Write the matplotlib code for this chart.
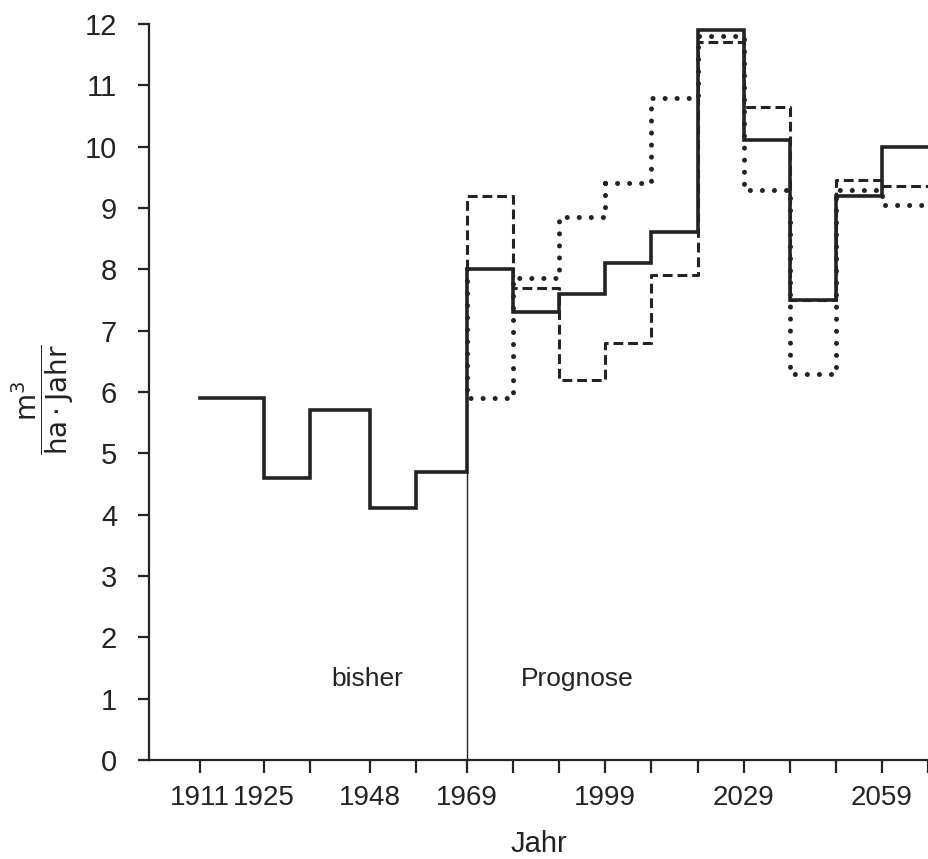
import matplotlib
matplotlib.use("Agg")
import matplotlib.pyplot as plt
import numpy as np

# edges of the periods (years)
hist_edges = [1911, 1925, 1935, 1948, 1958, 1969]
prog_edges = [1969, 1979, 1989, 1999, 2009, 2019, 2029, 2039, 2049, 2059, 2069]

# growth in m3 / (ha * Jahr)
hist_vals = [5.9, 4.6, 5.7, 4.1, 4.7]
prog_solid = [8.0, 7.3, 7.6, 8.1, 8.6, 11.9, 10.1, 7.5, 9.2, 10.0]
prog_dashed = [9.2, 7.7, 6.2, 6.8, 7.9, 11.7, 10.65, 7.5, 9.45, 9.35]
prog_dotted = [5.9, 7.85, 8.85, 9.4, 10.8, 11.8, 9.3, 6.3, 9.3, 9.05]

x_ticks = [1911, 1925, 1935, 1948, 1958, 1969, 1979, 1989, 1999, 2009,
           2019, 2029, 2039, 2049, 2059, 2069]
x_labeled = [1911, 1925, 1948, 1969, 1999, 2029, 2059]
y_ticks = list(range(0, 13))

tick_font = ['Liberation Sans', 'DejaVu Sans']


def step_xy(edges, vals, start=None):
    xs = list(np.repeat(edges, 2)[1:-1])
    ys = list(np.repeat(vals, 2))
    if start is not None:
        xs = [edges[0]] + xs
        ys = [start] + ys
    return xs, ys


fig = plt.figure(figsize=(9.29, 8.59), dpi=100)
ax = fig.add_axes([0.1604, 0.1153, 0.8385, 0.8568])

ink = '#232323'

# separator between past and prognosis
ax.plot([1969, 1969], [0, hist_vals[-1]], color=ink, lw=1.0)

# solid line: past + prognosis
all_edges = hist_edges + prog_edges[1:]
all_vals = hist_vals + prog_solid
xs, ys = step_xy(all_edges, all_vals)
ax.plot(xs, ys, color=ink, lw=2.6, solid_joinstyle='miter', zorder=4)

# dashed variant
xs, ys = step_xy(prog_edges, prog_dashed, start=prog_solid[0])
ax.plot(xs, ys, color=ink, lw=2.2, linestyle=(0, (3.2, 1.6)), zorder=3)

# dotted variant
xs, ys = step_xy(prog_edges, prog_dotted, start=prog_solid[0])
ax.plot(xs, ys, color=ink, lw=3.6, linestyle=(0, (0.01, 2.4)),
        dash_capstyle='round', zorder=3)

ax.set_xlim(1900, 2069)
ax.set_ylim(0, 12)

for s in ['top', 'right']:
    ax.spines[s].set_visible(False)
for s in ['left', 'bottom']:
    ax.spines[s].set_linewidth(1.6)
    ax.spines[s].set_color(ink)

ax.set_xticks(x_ticks)
ax.set_xticklabels([str(t) if t in x_labeled else '' for t in x_ticks],
                   family=tick_font, fontsize=20, color=ink)
ax.set_yticks(y_ticks)
ax.set_yticklabels([str(t) for t in y_ticks], family=tick_font,
                   fontsize=21, color=ink)
ax.tick_params(axis='x', length=9, width=1.6, pad=9, color=ink)
ax.tick_params(axis='y', length=8, width=1.6, pad=15, color=ink)

ax.set_xlabel('Jahr', family=tick_font, fontsize=21, color=ink, labelpad=14)

ax.text(-0.136, 0.49, r'$\dfrac{\mathrm{m^3}}{\mathrm{ha \cdot Jahr}}$',
        transform=ax.transAxes, rotation=90, fontsize=20, color=ink,
        ha='center', va='center')

ax.text(1947.3, 1.32, 'bisher', family='Liberation Sans', fontsize=19,
        color=ink, ha='center', va='center')
ax.text(1992.9, 1.32, 'Prognose', family='Liberation Sans', fontsize=19,
        color=ink, ha='center', va='center')

fig.savefig('out.png', dpi=100)
